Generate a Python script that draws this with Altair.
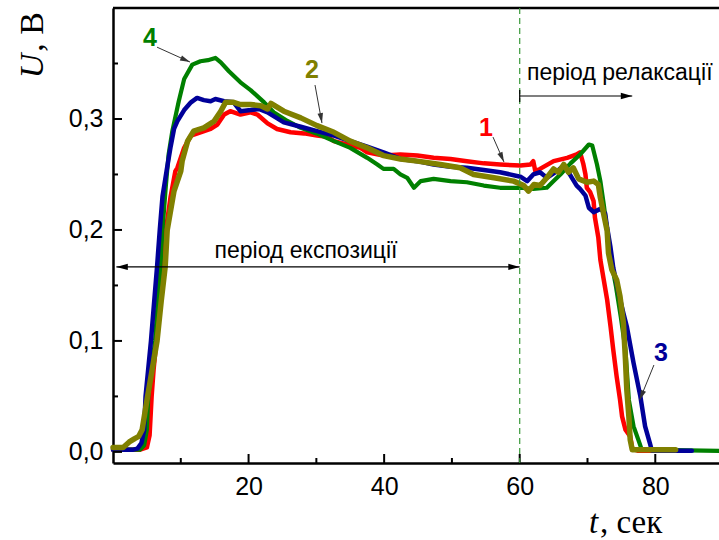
import altair as alt
import pandas as pd

# ---------------- data ----------------
# curve 1 (red)
t1 = [0, 4.0, 5.0, 5.4, 5.7, 6.0, 6.4, 6.9, 7.5, 7.8, 8.5, 9.2, 9.5, 10.5, 11.5, 12.9, 14.4, 15.4,
      16.4, 17.3, 18.8, 20.3, 21.3, 22.8, 24.2, 26.2, 28.2, 30.1, 31.6, 32.6, 34.5, 36.5, 37.5, 39.9,
      42.4, 44.9, 47.3, 49.8, 52.2, 54.7, 57.1, 60.1, 61.6, 62.0, 62.3, 63.0, 65.0, 67.0, 68.4, 68.9,
      69.4, 69.7, 69.9, 70.4, 70.9, 71.1, 71.6, 71.9, 72.4, 72.9, 73.4, 73.8, 74.3, 74.8, 75.1, 75.6,
      76.3, 76.6, 77.5, 80.0]
u1 = [0.002, 0.002, 0.004, 0.015, 0.05, 0.075, 0.10, 0.135, 0.167, 0.20, 0.23, 0.253, 0.256, 0.274,
      0.285, 0.288, 0.291, 0.295, 0.304, 0.307, 0.304, 0.306, 0.304, 0.296, 0.291, 0.288, 0.287, 0.285,
      0.284, 0.280, 0.277, 0.274, 0.270, 0.267, 0.268, 0.267, 0.265, 0.264, 0.262, 0.260, 0.259, 0.258,
      0.259, 0.262, 0.253, 0.255, 0.262, 0.265, 0.268, 0.270, 0.259, 0.250, 0.238, 0.234, 0.226, 0.211,
      0.193, 0.173, 0.155, 0.137, 0.113, 0.092, 0.068, 0.047, 0.032, 0.020, 0.014, 0.003, 0.001, 0.001]

# curve 2 (olive)
t2 = [0, 1.5, 2.4, 3.2, 3.8, 4.3, 4.7, 5.1, 5.8, 6.5, 7.1, 7.7, 8.0, 9.0, 10.0, 10.2, 11.0, 11.9,
      13.4, 14.9, 15.9, 16.6, 17.8, 18.8, 20.3, 21.8, 22.8, 23.3, 25.2, 27.7, 30.1, 32.6, 35.0, 37.5,
      39.9, 42.4, 44.9, 48.3, 51.2, 53.2, 56.2, 59.1, 60.6, 61.3, 62.1, 63.0, 64.0, 65.0, 65.7, 66.5,
      67.2, 67.9, 68.7, 69.9, 70.9, 71.6, 71.9, 72.4, 72.9, 73.1, 73.6, 74.3, 74.8, 75.3, 75.6, 75.8,
      76.1, 76.3, 76.6, 83.0]
u2 = [0.004, 0.004, 0.009, 0.012, 0.014, 0.02, 0.035, 0.05, 0.075, 0.10, 0.135, 0.167, 0.20, 0.235,
      0.253, 0.262, 0.280, 0.289, 0.292, 0.298, 0.307, 0.315, 0.315, 0.313, 0.313, 0.312, 0.309, 0.314,
      0.307, 0.301, 0.294, 0.288, 0.280, 0.274, 0.267, 0.264, 0.262, 0.259, 0.256, 0.250, 0.247, 0.244,
      0.240, 0.235, 0.241, 0.240, 0.247, 0.255, 0.252, 0.259, 0.252, 0.256, 0.246, 0.243, 0.244, 0.241,
      0.229, 0.214, 0.199, 0.179, 0.164, 0.155, 0.140, 0.116, 0.083, 0.056, 0.032, 0.011, 0.002, 0.002]

# curve 3 (blue)
t3 = [0, 3.0, 3.6, 4.2, 4.6, 4.8, 5.2, 5.6, 6.0, 6.5, 6.9, 7.3, 7.9, 8.5, 9.0, 9.5, 10.5, 11.5, 12.4,
      13.4, 14.4, 15.1, 16.4, 17.8, 18.8, 20.3, 21.5, 22.8, 25.2, 27.7, 30.1, 32.6, 35.0, 37.5, 39.9,
      42.4, 44.9, 47.3, 49.8, 52.2, 54.7, 57.1, 60.1, 61.1, 62.0, 63.0, 64.0, 65.5, 66.5, 67.5, 68.4,
      68.9, 69.7, 70.2, 70.9, 71.9, 72.6, 72.9, 73.4, 73.8, 74.6, 75.3, 75.8, 76.8, 77.8, 78.5, 79.2,
      79.5, 85.4]
u3 = [0.002, 0.002, 0.003, 0.008, 0.02, 0.05, 0.075, 0.10, 0.13, 0.167, 0.20, 0.23, 0.253, 0.275,
      0.291, 0.298, 0.308, 0.315, 0.319, 0.317, 0.316, 0.318, 0.316, 0.315, 0.307, 0.308, 0.309, 0.306,
      0.297, 0.293, 0.289, 0.285, 0.280, 0.275, 0.270, 0.264, 0.262, 0.259, 0.257, 0.256, 0.254, 0.252,
      0.248, 0.244, 0.250, 0.252, 0.247, 0.253, 0.258, 0.249, 0.240, 0.237, 0.231, 0.220, 0.216, 0.219,
      0.215, 0.202, 0.184, 0.166, 0.143, 0.125, 0.113, 0.080, 0.050, 0.023, 0.008, 0.001, 0.001]

# curve 4 (green)
t4 = [0, 4.0, 4.6, 5.0, 5.2, 5.7, 6.2, 6.6, 7.0, 7.3, 7.8, 8.2, 8.75, 9.7, 10.5, 11.7, 12.9, 14.0,
      15.1, 15.9, 17.1, 18.8, 20.3, 22.3, 23.7, 25.5, 27.7, 30.0, 32.6, 35.0, 37.5, 39.0, 39.9, 41.4,
      42.4, 43.4, 44.4, 45.4, 47.3, 49.8, 52.2, 54.7, 57.1, 60.1, 62.0, 64.0, 65.0, 66.0, 67.5, 68.9,
      70.2, 70.7, 71.4, 71.9, 72.4, 72.9, 73.4, 74.2, 74.9, 75.6, 76.1, 76.8, 77.5, 78.0, 89.4]
u4 = [0.002, 0.002, 0.006, 0.02, 0.05, 0.075, 0.10, 0.135, 0.167, 0.20, 0.24, 0.268, 0.289, 0.316,
      0.336, 0.349, 0.352, 0.353, 0.355, 0.351, 0.343, 0.333, 0.326, 0.315, 0.306, 0.299, 0.292, 0.287,
      0.280, 0.274, 0.265, 0.259, 0.255, 0.255, 0.250, 0.247, 0.238, 0.244, 0.246, 0.244, 0.243, 0.240,
      0.238, 0.238, 0.237, 0.238, 0.244, 0.250, 0.260, 0.268, 0.277, 0.276, 0.259, 0.244, 0.223, 0.199,
      0.175, 0.149, 0.122, 0.092, 0.047, 0.023, 0.011, 0.002, 0.001]

x_major = [20, 40, 60, 80]
x_minor = [10, 30, 50, 70]
y_major = [0.0, 0.1, 0.2, 0.3]
y_minor = [0.05, 0.15, 0.25, 0.35]

# annotations (data coordinates)
lab_text = ["1", "2", "3", "4"]
lab_t = [55.03, 29.35, 80.84, 5.46]
lab_u = [0.2918, 0.3441, 0.0891, 0.373]
lab_col = ["#ff0000", "#808000", "#000099", "#008000"]
arr_t0 = [56.06, 29.8, 79.8, 6.5]
arr_u0 = [0.2837, 0.3306, 0.0783, 0.3647]
arr_t1 = [57.68, 30.83, 77.7, 11.36]
arr_u1 = [0.2612, 0.2963, 0.0468, 0.3513]
arr_ang = [156, 170, 202, 114]

# ---------------- chart ----------------
W, H = 606, 455
xs = alt.Scale(domain=[0, 89.4], nice=False, zero=False)
ys = alt.Scale(domain=[-0.01, 0.4], nice=False, zero=False)
SANS = "Liberation Sans"
SERIF = "Liberation Serif"

x_axis = alt.Axis(values=x_major, title=None, tickSize=0, labelFontSize=25, labelFont=SANS,
                  labelColor="black", domainColor="black", domainWidth=2.5, labelPadding=11,
                  grid=False, labelFlush=False)
y_axis = alt.Axis(values=y_major, title=None, tickSize=0, labelFontSize=25, labelFont=SANS,
                  labelColor="black", domainColor="black", domainWidth=2.5, labelPadding=10,
                  grid=False, labelExpr="replace(format(datum.value, '.1f'), '.', ',')")


def X(field):
    return alt.X(field, scale=xs, axis=x_axis, title=None)


def Y(field):
    return alt.Y(field, scale=ys, axis=y_axis, title=None)


series = [
    (t1, u1, "#ff0000", 4.5),
    (t4, u4, "#008000", 4.2),
    (t3, u3, "#000099", 4.5),
    (t2, u2, "#808000", 5.5),
]

layers = []
for t, u, col, sw in series:
    df = pd.DataFrame({"t": t, "U": u, "i": list(range(len(t)))})
    layers.append(
        alt.Chart(df).mark_line(color=col, strokeWidth=sw, strokeJoin="round", strokeCap="round").encode(
            x=X("t:Q"), y=Y("U:Q"), order="i:Q",
        )
    )

one = pd.DataFrame({"a": [0]})

# top frame
layers.append(alt.Chart(one).mark_rule(color="black", strokeWidth=2.5).encode(
    x=alt.value(0), x2=alt.value(W), y=alt.value(0)))


# inward ticks
def xticks(vals, length):
    return alt.Chart(pd.DataFrame({"v": vals})).mark_rule(color="black", strokeWidth=2).encode(
        x=X("v:Q"), y=alt.value(H), y2=alt.value(H - length))


def yticks(vals, length):
    return alt.Chart(pd.DataFrame({"v": vals})).mark_rule(color="black", strokeWidth=2).encode(
        y=Y("v:Q"), x=alt.value(0), x2=alt.value(length))


layers += [xticks(x_major, 9), xticks(x_minor, 5), yticks(y_major, 9), yticks(y_minor, 5)]

# dashed vertical line at t = 60
layers.append(alt.Chart(pd.DataFrame({"v": [60]})).mark_rule(
    color="#3a9a3a", strokeDash=[6, 4], strokeWidth=1.2).encode(
    x=X("v:Q"), y=alt.value(0), y2=alt.value(H)))

# period arrows
seg = pd.DataFrame({
    "x": [0.5, 60.0, 60.0],
    "x2": [60.0, 76.6, 60.0],
    "y": [0.1667, 0.3207, 0.3153],
    "y2": [0.1667, 0.3207, 0.3261],
})
layers.append(alt.Chart(seg).mark_rule(color="black", strokeWidth=1.2).encode(
    x=X("x:Q"), x2="x2:Q", y=Y("y:Q"), y2="y2:Q"))

HEAD = "M0,0L0.55,2L-0.55,2Z"
heads = pd.DataFrame({"x": [0.5, 60.0, 76.6], "y": [0.1667, 0.1667, 0.3207], "a": [270, 90, 90]})
layers.append(alt.Chart(heads).mark_point(shape=HEAD, filled=True, color="black", size=130,
                                          opacity=1, strokeWidth=0).encode(
    x=X("x:Q"), y=Y("y:Q"), angle=alt.Angle("a:Q", scale=None)))

# label arrows
lseg = pd.DataFrame({"x": arr_t0, "y": arr_u0, "x2": arr_t1, "y2": arr_u1, "a": arr_ang})
layers.append(alt.Chart(lseg).mark_rule(color="#333333", strokeWidth=1).encode(
    x=X("x:Q"), x2="x2:Q", y=Y("y:Q"), y2="y2:Q"))
layers.append(alt.Chart(lseg).mark_point(shape=HEAD, filled=True, color="#333333", size=100,
                                         opacity=1, strokeWidth=0).encode(
    x=X("x2:Q"), y=Y("y2:Q"), angle=alt.Angle("a:Q", scale=None)))

# number labels
labs = pd.DataFrame({"txt": lab_text, "x": lab_t, "y": lab_u, "c": lab_col})
layers.append(alt.Chart(labs).mark_text(font=SANS, fontSize=25, fontWeight="bold",
                                        baseline="middle", align="center").encode(
    x=X("x:Q"), y=Y("y:Q"), text="txt:N", color=alt.Color("c:N", scale=None)))

# period texts
ptxt = pd.DataFrame({"txt": ["період експозиції"], "x": [28.47], "y": [0.1747]})
layers.append(alt.Chart(ptxt).mark_text(font=SANS, fontSize=23, color="black",
                                        baseline="alphabetic", align="center").encode(
    x=X("x:Q"), y=Y("y:Q"), text="txt:N"))
rtxt = pd.DataFrame({"txt": ["період релаксації"], "x": [61.07], "y": [0.3351]})
layers.append(alt.Chart(rtxt).mark_text(font=SANS, fontSize=23, color="black",
                                        baseline="alphabetic", align="left").encode(
    x=X("x:Q"), y=Y("y:Q"), text="txt:N"))

# axis titles (mixed italic / upright)
layers.append(alt.Chart(one).mark_text(text="U", font=SERIF, fontStyle="italic", fontSize=34,
                                       angle=270, align="center", baseline="alphabetic",
                                       color="black").encode(x=alt.value(-70), y=alt.value(58)))
layers.append(alt.Chart(one).mark_text(text=", В", font=SERIF, fontSize=34, angle=270,
                                       align="center", baseline="alphabetic",
                                       color="black").encode(x=alt.value(-70), y=alt.value(24)))
layers.append(alt.Chart(one).mark_text(text="t", font=SERIF, fontStyle="italic", fontSize=33,
                                       align="left", baseline="alphabetic",
                                       color="black").encode(x=alt.value(476), y=alt.value(525)))
layers.append(alt.Chart(one).mark_text(text=", сек", font=SERIF, fontSize=33,
                                       align="left", baseline="alphabetic",
                                       color="black").encode(x=alt.value(487), y=alt.value(525)))

chart = alt.layer(*layers).properties(
    width=W, height=H,
    autosize=alt.AutoSizeParams(type="none"),
    padding={"left": 113, "top": 8, "right": 0, "bottom": 77},
    background="white",
).configure_view(stroke=None)

chart.save("out.html", embed_options={"renderer": "svg", "actions": False})
